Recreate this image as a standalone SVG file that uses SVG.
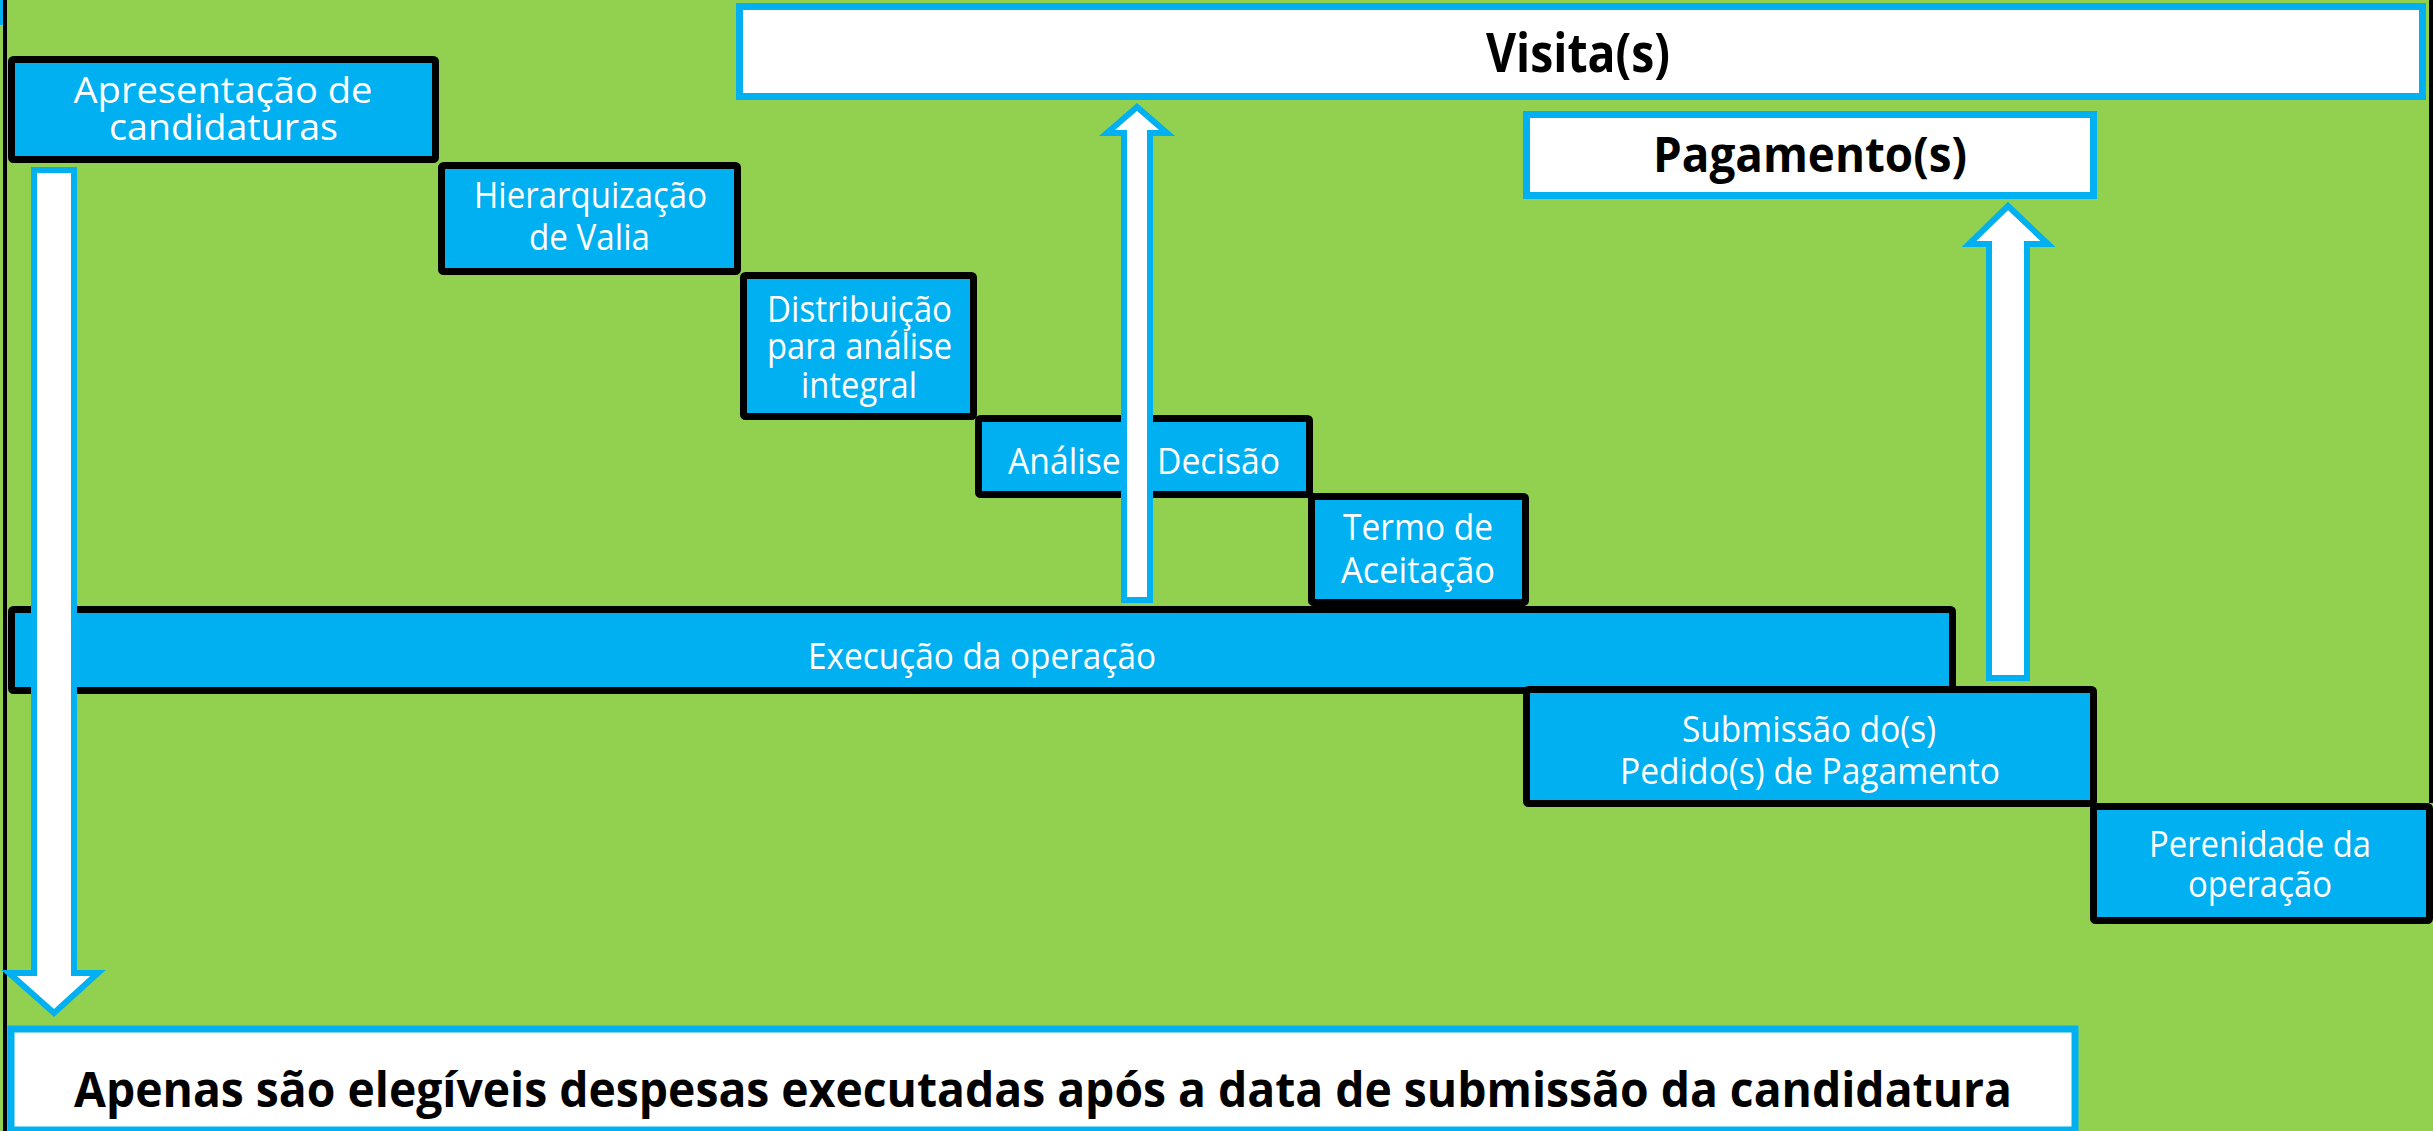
<svg xmlns="http://www.w3.org/2000/svg" width="2433" height="1131" viewBox="0 0 2433 1131">
<style>
.bg{fill:#92D050}
.step{fill:#00B0F0;stroke:#000;stroke-width:7;stroke-linejoin:round}
.note{fill:#FFFFFF;stroke:#00B0F0;stroke-width:7}
.arrow{fill:#FFFFFF;stroke:#00B0F0;stroke-width:6;stroke-linejoin:miter}
.lbl{font-family:"Open Sans","Noto Sans","Liberation Sans",sans-serif;font-size:36px;fill:#FFFFFF;text-anchor:middle}
.bold{font-family:"Open Sans","Noto Sans","Liberation Sans",sans-serif;font-weight:700;fill:#000000;text-anchor:middle}
</style>
<rect class="bg" x="0" y="0" width="2433" height="1131"/>
<rect x="3" y="0" width="4" height="1131" fill="#000"/>
<rect x="2429" y="0" width="4" height="803" fill="#000"/>
<rect x="0" y="0" width="3" height="25" fill="#00B0F0"/>

<g id="node-apresentacao">
<rect class="step" x="11.5" y="59.5" width="424" height="100" rx="2"/>
<text class="lbl" x="223" y="103" textLength="299" lengthAdjust="spacingAndGlyphs">Apresentação de</text>
<text class="lbl" x="223.5" y="140" textLength="229" lengthAdjust="spacingAndGlyphs">candidaturas</text>
</g>
<g id="node-hierarquizacao">
<rect class="step" x="441.5" y="165.5" width="296" height="106" rx="2"/>
<text class="lbl" x="590.5" y="208" textLength="233" lengthAdjust="spacingAndGlyphs">Hierarquização</text>
<text class="lbl" x="589.5" y="250" textLength="121" lengthAdjust="spacingAndGlyphs">de Valia</text>
</g>
<g id="node-distribuicao">
<rect class="step" x="743.5" y="275.5" width="230" height="141" rx="2"/>
<text class="lbl" x="859.5" y="322" textLength="185" lengthAdjust="spacingAndGlyphs">Distribuição</text>
<text class="lbl" x="859.5" y="359" textLength="185" lengthAdjust="spacingAndGlyphs">para análise</text>
<text class="lbl" x="859" y="398" textLength="116" lengthAdjust="spacingAndGlyphs">integral</text>
</g>
<g id="node-analise">
<rect class="step" x="978.5" y="418.5" width="331" height="76" rx="2"/>
<text class="lbl" x="1144" y="474" textLength="272" lengthAdjust="spacingAndGlyphs">Análise e Decisão</text>
</g>
<g id="node-termo">
<rect class="step" x="1311.5" y="496.5" width="214" height="106" rx="2"/>
<text class="lbl" x="1418" y="540" textLength="150" lengthAdjust="spacingAndGlyphs">Termo de</text>
<text class="lbl" x="1418" y="583" textLength="154" lengthAdjust="spacingAndGlyphs">Aceitação</text>
</g>
<g id="node-execucao">
<rect class="step" x="11.5" y="609.5" width="1941" height="81" rx="2"/>
<text class="lbl" x="982" y="669" textLength="348" lengthAdjust="spacingAndGlyphs">Execução da operação</text>
</g>
<g id="node-submissao">
<rect class="step" x="1526.5" y="689.5" width="567" height="114" rx="2"/>
<text class="lbl" x="1809" y="742" textLength="254" lengthAdjust="spacingAndGlyphs">Submissão do(s)</text>
<text class="lbl" x="1810" y="784" textLength="380" lengthAdjust="spacingAndGlyphs">Pedido(s) de Pagamento</text>
</g>
<g id="node-perenidade">
<rect class="step" x="2093.5" y="806.5" width="336" height="114" rx="2"/>
<text class="lbl" x="2260" y="857" textLength="222" lengthAdjust="spacingAndGlyphs">Perenidade da</text>
<text class="lbl" x="2260" y="897" textLength="144" lengthAdjust="spacingAndGlyphs">operação</text>
</g>
<g id="node-visitas">
<rect class="note" x="739.5" y="6.5" width="1683" height="90"/>
<text class="bold" x="1578" y="72" font-size="53" textLength="184" lengthAdjust="spacingAndGlyphs">Visita(s)</text>
</g>
<g id="node-pagamentos">
<rect class="note" x="1526.5" y="114.5" width="567" height="81"/>
<text class="bold" x="1810" y="172" font-size="49" textLength="314" lengthAdjust="spacingAndGlyphs">Pagamento(s)</text>
</g>
<g id="node-elegiveis">
<rect class="note" x="11" y="1029" width="2064" height="101"/>
<text class="bold" x="1043" y="1107" font-size="48" textLength="1938" lengthAdjust="spacingAndGlyphs">Apenas são elegíveis despesas executadas após a data de submissão da candidatura</text>
</g>

<g id="connectors">
<polygon class="arrow" points="34,170 74,170 74,973 98,973 54,1013 9,973 34,973"/>
<polygon class="arrow" points="1124,600 1124,133 1107,133 1137,107 1167,133 1150,133 1150,600"/>
<polygon class="arrow" points="1989,678 1989,244 1969,244 2008,206 2048,244 2027,244 2027,678"/>
</g>
</svg>
